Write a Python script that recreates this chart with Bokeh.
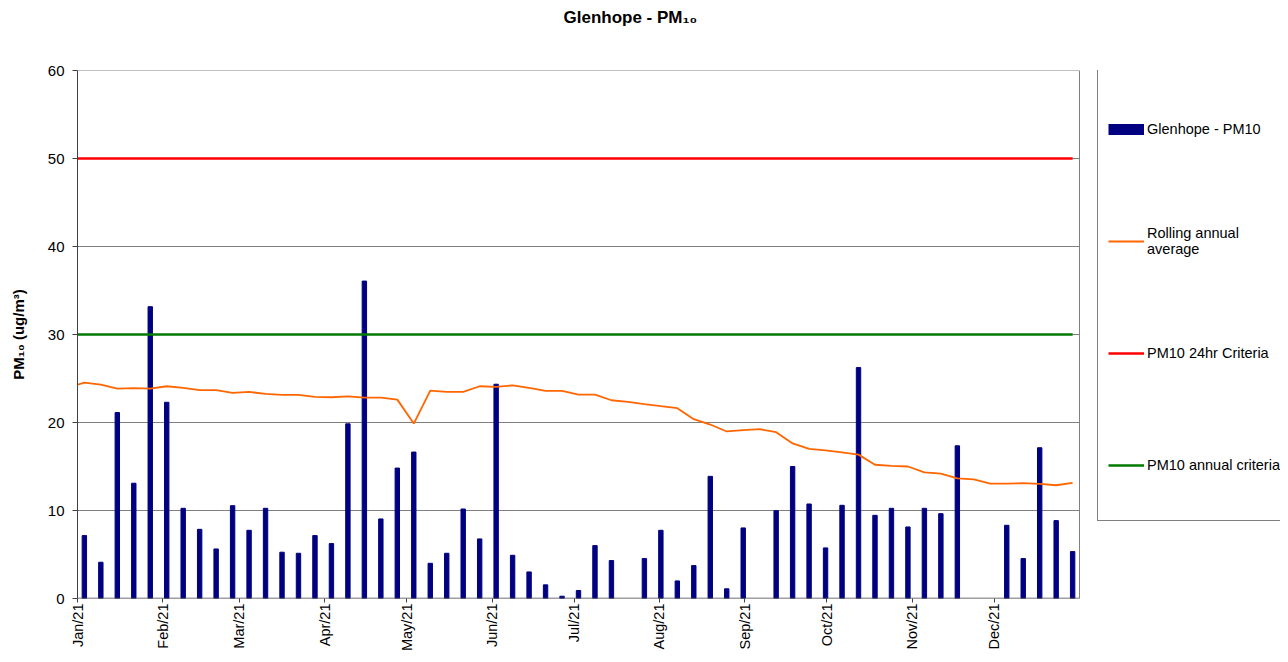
import math
import numpy as np
import pandas as pd
from bokeh.plotting import figure
from bokeh.models import (Range1d, FixedTicker, SingleIntervalTicker, DatetimeTickFormatter,
                          Legend, LegendItem, ColumnDataSource, Title)
from bokeh.embed import file_html
from bokeh.resources import INLINE

# ---------------- data ----------------
sample_dates = [
    "2021-01-03", "2021-01-09", "2021-01-15", "2021-01-21", "2021-01-27",
    "2021-02-02", "2021-02-08", "2021-02-14", "2021-02-20", "2021-02-26",
    "2021-03-04", "2021-03-10", "2021-03-16", "2021-03-22", "2021-03-28",
    "2021-04-03", "2021-04-09", "2021-04-15", "2021-04-21", "2021-04-27",
    "2021-05-03", "2021-05-09", "2021-05-15", "2021-05-21", "2021-05-27",
    "2021-06-02", "2021-06-08", "2021-06-14", "2021-06-20", "2021-06-26",
    "2021-07-02", "2021-07-08", "2021-07-14", "2021-07-20", "2021-07-26",
    "2021-08-01", "2021-08-07", "2021-08-13", "2021-08-19", "2021-08-25", "2021-08-31",
    "2021-09-06", "2021-09-12", "2021-09-18", "2021-09-24", "2021-09-30",
    "2021-10-06", "2021-10-12", "2021-10-18", "2021-10-24", "2021-10-30",
    "2021-11-05", "2021-11-11", "2021-11-17", "2021-11-23", "2021-11-29",
    "2021-12-05", "2021-12-11", "2021-12-17", "2021-12-23", "2021-12-29",
]
NA = float("nan")
pm10 = [
    7.15, 4.12, 21.13, 13.1, 33.16,
    22.3, 10.25, 7.86, 5.63, 10.55,
    7.75, 10.25, 5.26, 5.14, 7.15,
    6.24, 19.85, 36.07, 9.04, 14.82,
    16.64, 4.0, 5.14, 10.17, 6.77,
    24.35, 4.91, 3.02, 1.55, 0.26,
    0.91, 6.01, 4.31, NA, 4.54,
    7.75, 2.0, 3.74, 13.88, 1.10, 8.02,
    NA, 9.98, 15.0, 10.74, 5.75,
    10.59, 26.24, 9.45, 10.25, 8.13,
    10.25, 9.64, 17.35, NA, NA,
    8.32, 4.54, 17.13, 8.85, 5.33,
]
rolling_dates = ["2020-12-28"] + sample_dates
rolling_avg = [
    23.95,
    24.53, 24.3, 23.85, 23.9, 23.85,
    24.12, 23.93, 23.67, 23.67, 23.36,
    23.48, 23.25, 23.14, 23.14, 22.91,
    22.87, 22.98, 22.83, 22.83, 22.6,
    19.88, 23.63, 23.48, 23.48, 24.12,
    24.04, 24.23, 23.93, 23.59, 23.59,
    23.17, 23.17, 22.53, 22.34, 22.08,
    21.85, 21.63, 20.38, 19.77, 18.98, 19.13,
    19.24, 18.9, 17.62, 17.01, 16.83,
    16.6, 16.35, 15.2, 15.06, 15.0,
    14.33, 14.18, 13.65, 13.54, 13.06,
    13.06, 13.1, 13.02, 12.87, 13.14,
]
criteria_24hr = 50
criteria_annual = 30
month_ticks = ["2021-01-01", "2021-02-01", "2021-03-01", "2021-04-01", "2021-05-01", "2021-06-01",
               "2021-07-01", "2021-08-01", "2021-09-01", "2021-10-01", "2021-11-01", "2021-12-01"]
axis_start, axis_end = "2021-01-01", "2022-01-01"
y_min, y_max, y_step = 0, 60, 10

FONT = "Liberation Sans"
NAVY = "#000080"
ORANGE = "#FF6600"
RED = "#FF0000"
GREEN = "#007A00"
GRID = "#808080"
AXIS = "#404040"

# ---------------- layout ----------------
W, H = 1280, 654
FRAME_LEFT, PLOT_RIGHT, FRAME_TOP, FRAME_BOTTOM = 77, 1079, 70, 599
LEGEND_LEFT, LEGEND_BOTTOM = 1097, 522

# ---------------- derived ----------------
t0, t1 = pd.Timestamp(axis_start), pd.Timestamp(axis_end)
# the frame runs to the canvas edge so that the legend (outside the plot box) is not clipped
t_canvas = t0 + (t1 - t0) * ((W - FRAME_LEFT) / (PLOT_RIGHT - FRAME_LEFT))

half_day = pd.Timedelta(hours=12)
bar_x = pd.to_datetime(sample_dates) + half_day
roll_x = pd.to_datetime(rolling_dates) + half_day
pm = np.array(pm10, dtype=float)
ok = ~np.isnan(pm)
bars = ColumnDataSource(dict(x=bar_x[ok], top=pm[ok]))
roll = ColumnDataSource(dict(x=roll_x, y=rolling_avg))
crit = ColumnDataSource(dict(x=roll_x, c24=[criteria_24hr] * len(roll_x),
                             cann=[criteria_annual] * len(roll_x)))
grid_levels = list(range(y_min + y_step, y_max + y_step, y_step))
grid = ColumnDataSource(dict(x0=[t0] * len(grid_levels), x1=[t1] * len(grid_levels),
                             y=grid_levels))
tick_ms = list(pd.to_datetime(month_ticks).as_unit("ns").asi8 // 10**6)

p = figure(width=W, height=H, x_axis_type="datetime",
           x_range=Range1d(t0, t_canvas), y_range=Range1d(y_min, y_max),
           output_backend="svg", toolbar_location=None,
           min_border_left=FRAME_LEFT, min_border_right=0, min_border_top=FRAME_TOP,
           min_border_bottom=H - FRAME_BOTTOM)

# main title (outermost) and a spacer title next to the plot, so the title sits near the top
p.title.text = "Glenhope - PM\u2081\u2080"
p.title.text_font = FONT
p.title.text_font_size = "17px"
p.title.text_font_style = "bold"
p.title.text_color = "black"
p.title.align = "left"
p.title.offset = 486
p.title.vertical_align = "top"
p.title.standoff = 0
spacer = Title(text="\u00a0", text_font_size="2px", standoff=38)
p.add_layout(spacer, "above")

p.outline_line_color = None
p.background_fill_color = "white"
p.border_fill_color = "white"
p.xgrid.grid_line_color = None
p.ygrid.grid_line_color = None

p.yaxis.ticker = SingleIntervalTicker(interval=y_step)
p.yaxis.axis_label = "PM\u2081\u2080 (ug/m\u00b3)"
p.yaxis.axis_label_text_font = FONT
p.yaxis.axis_label_text_font_size = "15px"
p.yaxis.axis_label_text_font_style = "bold"
p.yaxis.axis_label_text_color = "black"
p.yaxis.axis_label_standoff = 18
p.yaxis.major_label_standoff = 8
p.yaxis.axis_line_color = AXIS
p.yaxis.major_tick_out = 5
p.yaxis.major_label_text_font_size = "15px"

p.xaxis.ticker = FixedTicker(ticks=tick_ms)
fmt = "%b/%y"
p.xaxis.formatter = DatetimeTickFormatter(milliseconds=fmt, seconds=fmt, minsec=fmt, minutes=fmt,
                                          hourmin=fmt, hours=fmt, days=fmt, months=fmt, years=fmt)
p.xaxis.major_label_orientation = math.pi / 2
p.xaxis.major_label_standoff = 1
p.xaxis.axis_label_standoff = 0
p.xaxis.axis_line_color = None
p.xaxis.major_tick_out = 4
p.xaxis.major_label_text_font_size = "14.5px"

for ax in (p.xaxis, p.yaxis):
    ax.major_tick_line_color = AXIS
    ax.major_tick_in = 0
    ax.minor_tick_line_color = None
    ax.major_label_text_font = FONT
    ax.major_label_text_color = "black"

# ---------------- plot box: gridlines, right edge ----------------
p.segment(x0="x0", x1="x1", y0="y", y1="y", source=grid, line_color=GRID, line_width=1)
p.segment(x0=[t1], x1=[t1], y0=[y_min], y1=[y_max], line_color=GRID, line_width=1)

# ---------------- marks ----------------
p.vbar(x="x", top="top", bottom=0, width=1.6 * 86400000, source=bars,
       fill_color=NAVY, line_color=NAVY)
p.segment(x0=[t0], x1=[t1], y0=[y_min], y1=[y_min], line_color=AXIS, line_width=1.5)
r_roll = p.line("x", "y", source=roll, line_color=ORANGE, line_width=1.8)
r_24 = p.line("x", "c24", source=crit, line_color=RED, line_width=2.5)
r_ann = p.line("x", "cann", source=crit, line_color=GREEN, line_width=2.5)
# legend swatch for the bar series (a single undefined point: draws nothing in the plot)
swatch = p.line(x=[t0], y=[NA], line_color=NAVY, line_width=11)

legend = Legend(items=[
    LegendItem(label="Glenhope - PM10", renderers=[swatch]),
    LegendItem(label="Rolling annual\naverage", renderers=[r_roll]),
    LegendItem(label="PM10 24hr Criteria", renderers=[r_24]),
    LegendItem(label="PM10 annual criteria", renderers=[r_ann]),
], location=(LEGEND_LEFT - FRAME_LEFT, FRAME_BOTTOM - LEGEND_BOTTOM), orientation="vertical",
    title="\u00a0", title_text_font_size="1px", title_standoff=10,
    padding=10, spacing=22, glyph_width=36, glyph_height=90, label_height=90,
    label_standoff=3, margin=0,
    label_text_font=FONT, label_text_font_size="14.5px", label_text_color="black",
    border_line_color="black", border_line_width=1, background_fill_color="white",
    background_fill_alpha=1.0)
p.add_layout(legend, "center")

open("out.html", "w").write(file_html(p, INLINE))
